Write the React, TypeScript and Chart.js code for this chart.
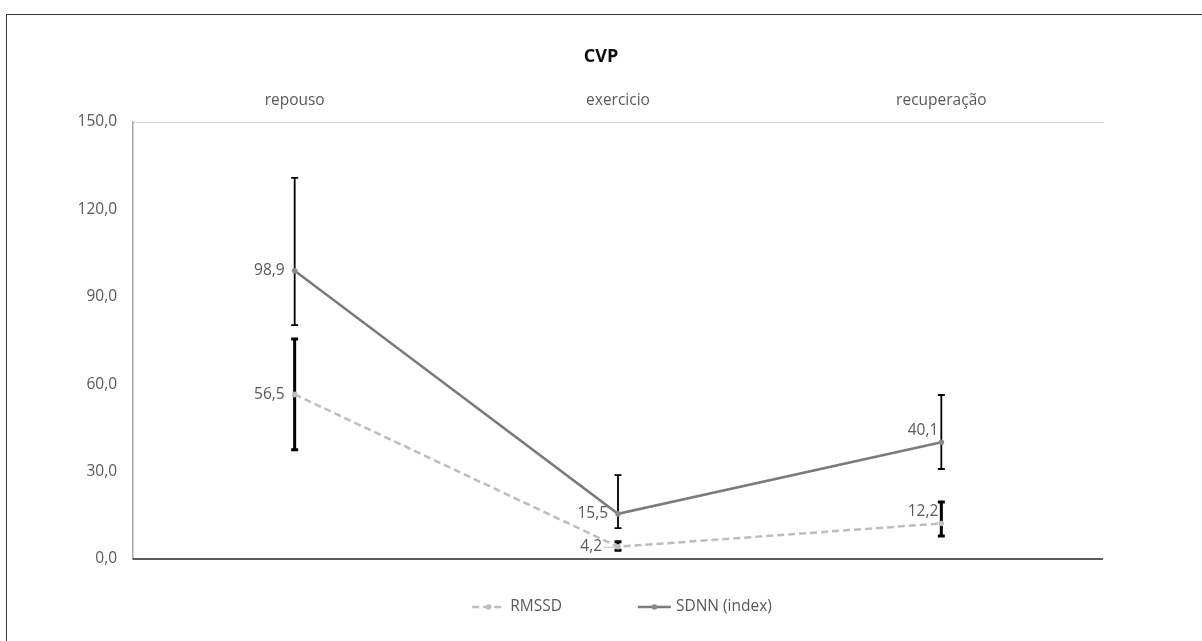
import React, { useEffect, useRef } from 'react';
import { Chart, registerables } from 'chart.js';

Chart.register(...registerables);

const categories = ['repouso', 'exercicio', 'recuperação'];
const rmssd = [56.5, 4.2, 12.2];
const rmssdHigh = [75.5, 5.9, 19.6];
const rmssdLow = [37.5, 3.0, 7.9];
const sdnn = [98.9, 15.5, 40.1];
const sdnnHigh = [130.8, 28.8, 56.3];
const sdnnLow = [80.3, 10.6, 30.9];
const yMin = 0;
const yMax = 150;
const yStep = 30;
const chartTitle = 'CVP';

const FONT = "'Open Sans', 'DejaVu Sans', sans-serif";
const TEXT = '#595959';

const fmt = (v: number) => v.toFixed(1).replace('.', ',');

const titlePlugin = {
  id: 'centeredTitle',
  afterDraw(chart: any) {
    const ctx = chart.ctx;
    ctx.save();
    ctx.font = `bold 18px ${FONT}`;
    ctx.fillStyle = '#0d0d0d';
    ctx.textAlign = 'center';
    ctx.textBaseline = 'middle';
    ctx.fillText(chartTitle, chart.width / 2, 57);
    ctx.restore();
  },
};

const errorBarPlugin = {
  id: 'errorBars',
  beforeDatasetsDraw(chart: any) {
    const ctx = chart.ctx;
    const yScale = chart.scales.y;
    chart.data.datasets.forEach((ds: any, di: number) => {
      const meta = chart.getDatasetMeta(di);
      meta.data.forEach((el: any, i: number) => {
        const yh = yScale.getPixelForValue(ds.errHigh[i]);
        const yl = yScale.getPixelForValue(ds.errLow[i]);
        const x = el.x;
        const cap = 3.5;
        ctx.save();
        ctx.strokeStyle = '#000';
        ctx.lineWidth = ds.errWidth;
        ctx.beginPath();
        ctx.moveTo(x, yh);
        ctx.lineTo(x, yl);
        ctx.moveTo(x - cap, yh);
        ctx.lineTo(x + cap, yh);
        ctx.moveTo(x - cap, yl);
        ctx.lineTo(x + cap, yl);
        ctx.stroke();
        ctx.restore();
      });
    });
    const area = chart.chartArea;
    const y0 = yScale.getPixelForValue(yMin);
    ctx.save();
    ctx.strokeStyle = '#262626';
    ctx.lineWidth = 1.5;
    ctx.beginPath();
    ctx.moveTo(area.left, y0);
    ctx.lineTo(area.right, y0);
    ctx.stroke();
    ctx.restore();
  },
};

const labelPlugin = {
  id: 'valueLabels',
  afterDatasetsDraw(chart: any) {
    const ctx = chart.ctx;
    chart.data.datasets.forEach((ds: any, di: number) => {
      const meta = chart.getDatasetMeta(di);
      meta.data.forEach((el: any, i: number) => {
        const place = ds.labelPlace[i];
        ctx.save();
        ctx.font = `15.5px ${FONT}`;
        ctx.fillStyle = TEXT;
        ctx.textAlign = 'right';
        ctx.textBaseline = 'middle';
        let x = el.x - 10;
        let y = el.y;
        if (place === 'aboveLeft') {
          x = el.x - 3;
          y = el.y - 12;
        } else if (place === 'leader') {
          x = el.x - 16;
          ctx.strokeStyle = '#bfbfbf';
          ctx.lineWidth = 1;
          ctx.beginPath();
          ctx.moveTo(el.x - 14, el.y + 0.5);
          ctx.lineTo(el.x - 3, el.y + 0.5);
          ctx.stroke();
        }
        ctx.fillText(fmt(ds.data[i]), x, y);
        ctx.restore();
      });
    });
  },
};

const legendPlugin = {
  id: 'customLegend',
  afterDraw(chart: any) {
    const ctx = chart.ctx;
    const area = chart.chartArea;
    ctx.save();
    ctx.font = `15.5px ${FONT}`;
    const lineLen = 33;
    const gapText = 5;
    const gapItems = 76;
    const items = chart.data.datasets.map((ds: any) => ({
      ds,
      w: lineLen + gapText + ctx.measureText(ds.label).width,
    }));
    const total = items.reduce((s: number, it: any) => s + it.w, 0) + gapItems * (items.length - 1);
    let x = (area.left + area.right) / 2 + 4 - total / 2;
    const y = 607;
    items.forEach((it: any) => {
      const ds = it.ds;
      ctx.strokeStyle = ds.borderColor;
      ctx.lineWidth = ds.borderWidth;
      ctx.setLineDash(ds.borderDash || []);
      ctx.beginPath();
      ctx.moveTo(x, y);
      ctx.lineTo(x + lineLen, y);
      ctx.stroke();
      ctx.setLineDash([]);
      ctx.fillStyle = ds.pointBackgroundColor;
      ctx.beginPath();
      ctx.arc(x + lineLen / 2, y, 2.8, 0, Math.PI * 2);
      ctx.fill();
      ctx.fillStyle = TEXT;
      ctx.textAlign = 'left';
      ctx.textBaseline = 'middle';
      ctx.fillText(ds.label, x + lineLen + gapText, y);
      x += it.w + gapItems;
    });
    ctx.restore();
  },
};

export default function App() {
  const ref = useRef<HTMLCanvasElement | null>(null);

  useEffect(() => {
    if (!ref.current) return;
    const chart = new Chart(ref.current, {
      type: 'line',
      data: {
        labels: categories,
        datasets: [
          {
            label: 'RMSSD',
            data: rmssd,
            borderColor: '#bdbdbd',
            backgroundColor: '#bdbdbd',
            pointBackgroundColor: '#bdbdbd',
            pointBorderColor: '#bdbdbd',
            borderWidth: 2.5,
            borderDash: [7, 4],
            pointRadius: 2.8,
            pointBorderWidth: 0,
            tension: 0,
            errHigh: rmssdHigh,
            errLow: rmssdLow,
            errWidth: 3,
            labelPlace: ['left', 'leader', 'aboveLeft'],
          } as any,
          {
            label: 'SDNN (index)',
            data: sdnn,
            borderColor: '#7b7b7b',
            backgroundColor: '#7b7b7b',
            pointBackgroundColor: '#8a8a8a',
            pointBorderColor: '#8a8a8a',
            borderWidth: 2.5,
            pointRadius: 2.8,
            pointBorderWidth: 0,
            tension: 0,
            errHigh: sdnnHigh,
            errLow: sdnnLow,
            errWidth: 1.8,
            labelPlace: ['left', 'left', 'aboveLeft'],
          } as any,
        ],
      },
      options: {
        responsive: false,
        animation: false,
        devicePixelRatio: 1,
        layout: { padding: { top: 67.6, left: 0, right: 99, bottom: 82 } },
        plugins: {
          legend: { display: false },
          tooltip: { enabled: false },
          title: { display: false },
        },
        scales: {
          x: {
            type: 'category',
            position: 'top',
            offset: true,
            grid: { display: false, drawTicks: false },
            border: { display: true, color: '#d4d4d4', width: 1 },
            ticks: { color: TEXT, font: { family: FONT, size: 15.5 }, padding: 12, maxRotation: 0 },
            afterFit: (scale: any) => {
              scale.height = 54.4;
            },
          },
          y: {
            min: yMin,
            max: yMax,
            grid: { display: false, drawTicks: false },
            border: { display: true, color: '#a6a6a6', width: 1.5 },
            ticks: {
              stepSize: yStep,
              color: TEXT,
              font: { family: FONT, size: 15.5 },
              padding: 16,
              callback: (v: any) => fmt(Number(v)),
            },
            afterFit: (scale: any) => {
              scale.width = 133;
            },
          },
        },
      },
      plugins: [errorBarPlugin, labelPlugin, legendPlugin, titlePlugin],
    });
    return () => chart.destroy();
  }, []);

  return (
    <div style={{ position: 'absolute', left: 0, top: 0, width: 1202, height: 641, overflow: 'hidden', background: '#fff' }}>
      <div
        style={{
          position: 'absolute',
          left: 6,
          top: 14,
          width: 1400,
          height: 800,
          borderTop: '1.5px solid #3a3a3a',
          borderLeft: '1.5px solid #3a3a3a',
          boxSizing: 'border-box',
        }}
      />
      <canvas ref={ref} width={1202} height={641} style={{ position: 'absolute', left: 0, top: 0, width: 1202, height: 641 }} />
    </div>
  );
}
